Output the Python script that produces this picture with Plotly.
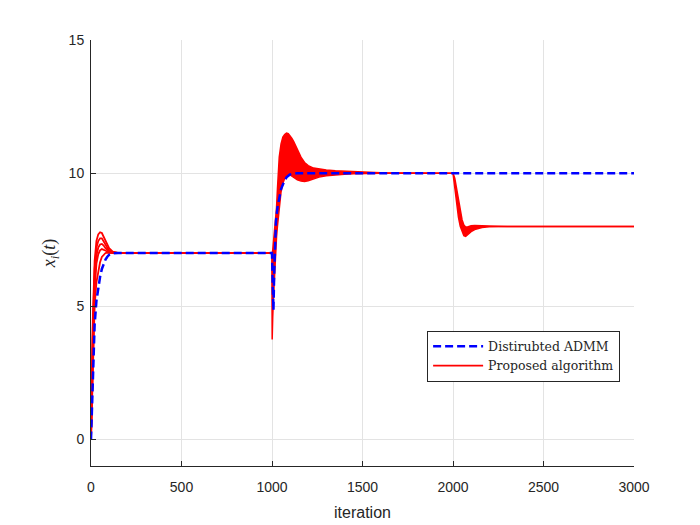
import plotly.graph_objects as go

# ---------------- data ----------------
# Segment 1 (iterations 0..999): individual agent trajectories of the proposed algorithm
iter_seg1 = [0, 10, 20, 30, 40, 50, 60, 70, 80, 90, 100, 120, 150, 200, 999]
agent1_seg1 = [0.3, 4.5, 6.7, 7.45, 7.7, 7.78, 7.75, 7.62, 7.45, 7.3, 7.18, 7.05, 7.0, 7.0, 7.0]
agent2_seg1 = [0.2, 4.2, 6.4, 7.2, 7.45, 7.55, 7.55, 7.45, 7.32, 7.2, 7.1, 7.03, 7.0, 7.0, 7.0]
agent3_seg1 = [0.1, 3.9, 6.0, 6.9, 7.2, 7.32, 7.34, 7.28, 7.18, 7.1, 7.05, 7.02, 7.0, 7.0, 7.0]
agent4_seg1 = [0.0, 3.5, 5.6, 6.6, 6.95, 7.1, 7.15, 7.12, 7.08, 7.05, 7.02, 7.01, 7.0, 7.0, 7.0]
agent5_seg1 = [0.0, 3.1, 5.0, 5.9, 6.3, 6.65, 6.85, 6.95, 7.0, 7.01, 7.0, 7.0, 7.0, 7.0, 7.0]

# Segments 2-3 (iterations 999..3000): upper / lower envelope of the agent band
iter_band = [999, 1000, 1001, 1004, 1008, 1012, 1016, 1020, 1025, 1030,
             1035, 1040, 1050, 1060, 1070, 1080, 1090, 1100, 1110, 1120,
             1140, 1160, 1180, 1200, 1230, 1260, 1300, 1350, 1400, 1450,
             1500, 1600, 1999, 2000, 2010, 2020, 2030, 2040, 2050, 2060,
             2070, 2080, 2090, 2100, 2120, 2140, 2160, 2200, 2300, 3000]
band_upper = [7.0, 7.0, 7.0, 7.1, 7.4, 7.6, 7.8, 8.2, 8.7, 9.4,
              10.0, 10.6, 11.1, 11.35, 11.45, 11.5, 11.48, 11.4, 11.3, 11.18,
              10.9, 10.6, 10.4, 10.28, 10.19, 10.15, 10.12, 10.09, 10.07, 10.05,
              10.03, 10.01, 10.0, 10.0, 9.8, 9.4, 8.95, 8.55, 8.25, 8.05,
              7.98, 7.98, 8.0, 8.02, 8.03, 8.03, 8.02, 8.01, 8.0, 8.0]
band_lower = [7.0, 5.5, 3.75, 4.6, 5.3, 6.0, 6.6, 7.1, 7.6, 8.0,
              8.3, 8.7, 9.3, 9.62, 9.8, 9.9, 9.95, 9.93, 9.88, 9.83,
              9.75, 9.7, 9.69, 9.71, 9.78, 9.85, 9.9, 9.94, 9.96, 9.98,
              9.99, 10.0, 10.0, 10.0, 9.45, 8.85, 8.35, 8.0, 7.78, 7.65,
              7.62, 7.68, 7.74, 7.8, 7.88, 7.93, 7.96, 7.99, 8.0, 8.0]

# Distributed ADMM trajectory
iter_admm = [0, 10, 20, 30, 40, 50, 60, 70, 80, 90, 100, 120, 150, 999,
             1000, 1004, 1008, 1012, 1016, 1022, 1030, 1035, 1044, 1050,
             1062, 1071, 1080, 1099, 1120, 1140, 3000]
admm_vals = [0.0, 2.4, 4.3, 5.2, 5.75, 6.1, 6.4, 6.6, 6.75, 6.86, 6.93, 6.99, 7.0, 7.0,
             7.0, 5.8, 4.85, 6.2, 7.2, 8.2, 8.7, 8.9, 9.25, 9.4,
             9.6, 9.75, 9.84, 9.95, 9.99, 10.0, 10.0]

x_ticks = [0, 500, 1000, 1500, 2000, 2500, 3000]
y_ticks = [0, 5, 10, 15]

RED = "#ff0000"
BLUE = "#0000ff"

fig = go.Figure()

fig.add_trace(go.Scatter(x=iter_band, y=band_lower, mode="lines",
                         line=dict(color=RED, width=1.5),
                         showlegend=False, hoverinfo="skip"))
fig.add_trace(go.Scatter(x=iter_band, y=band_upper, mode="lines",
                         line=dict(color=RED, width=1.5),
                         fill="tonexty", fillcolor=RED,
                         showlegend=False, hoverinfo="skip"))

agents = [agent1_seg1, agent2_seg1, agent3_seg1, agent4_seg1, agent5_seg1]
for i, ys in enumerate(agents):
    fig.add_trace(go.Scatter(x=iter_seg1, y=ys, mode="lines",
                             line=dict(color=RED, width=1.8),
                             name="Proposed algorithm", showlegend=(i == 0)))

fig.add_trace(go.Scatter(x=iter_admm, y=admm_vals, mode="lines",
                         line=dict(color=BLUE, width=2.5, dash="8px,4px"),
                         name="Distirubted ADMM"))

axis_common = dict(
    showgrid=True, gridcolor="#e3e3e3", gridwidth=1,
    showline=True, linecolor="#262626", linewidth=1,
    ticks="inside", ticklen=5, tickcolor="#262626",
    tickfont=dict(family="Liberation Sans, Arial, sans-serif", size=14, color="#262626"),
    zeroline=False, mirror=False,
)

fig.update_layout(
    width=692, height=517,
    margin=dict(l=83, r=66, t=32, b=59, autoexpand=False),
    paper_bgcolor="white", plot_bgcolor="white",
    xaxis=dict(range=[0, 3000], tickvals=x_ticks, ticklabelstandoff=8,
               title=dict(text="iteration", standoff=13,
                          font=dict(family="Liberation Sans, Arial, sans-serif", size=16, color="#262626")),
               **axis_common),
    yaxis=dict(range=[-1, 15], tickvals=y_ticks, ticklabelstandoff=3,
               title=dict(text="<i>x<sub>i</sub></i>(<i>t</i>)", standoff=8,
                          font=dict(family="Liberation Serif, serif", size=18, color="#262626")),
               **axis_common),
    legend=dict(x=0.619, y=0.3176, xanchor="left", yanchor="top",
                traceorder="reversed", itemwidth=50,
                bgcolor="white", bordercolor="#262626", borderwidth=1,
                font=dict(family="DejaVu Serif, serif", size=12.5, color="#262626"),
                tracegroupgap=0),
)

fig.write_html("out.html")
